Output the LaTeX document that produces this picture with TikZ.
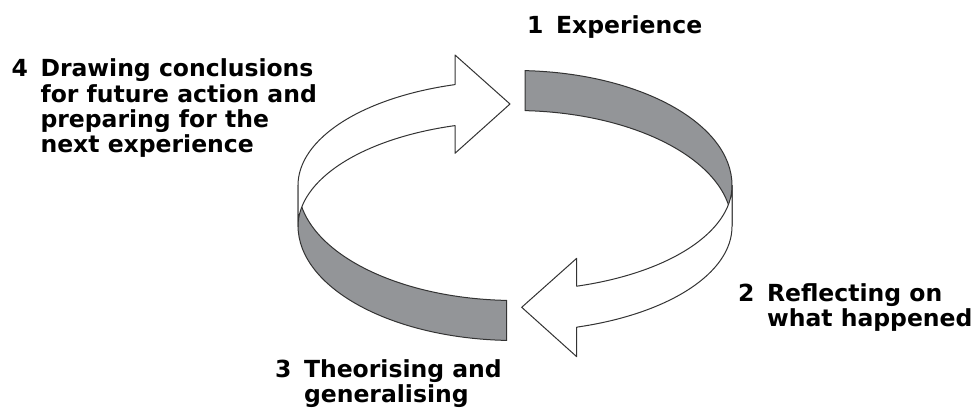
\documentclass[tikz,border=0pt]{standalone}
\usepackage{fontspec}
\setmainfont{DejaVu Sans}
\usepackage{tikz}
\definecolor{ribbon}{RGB}{147,149,152}
\tikzstyle{band}=[draw=black!80,line width=1pt,line join=round]
\tikzstyle{inside}=[band,fill=ribbon]
\tikzstyle{outside}=[band,fill=white]
\tikzstyle{stagetext}=[inner sep=0pt,anchor=base west,font=\fontsize{23.5}{25}\selectfont\bfseries]
\newcommand{\stagelabel}[2]{\begin{tabular}[t]{@{}l@{\hspace{12.5pt}}l@{}}#1&#2\end{tabular}}

\begin{document}
\begin{tikzpicture}[x=1pt,y=1pt]
\useasboundingbox (0,0) rectangle (979,410);
% back part of the ribbon, seen from inside
\draw[inside] (515,224.5) ++(87.36:217 and 115)
    arc[start angle=87.36,end angle=0,x radius=217,y radius=115] -- ++(0,-40)
    arc[start angle=0,end angle=87.36,x radius=217,y radius=115] -- cycle;
% arrow bottom right
\draw[outside] (515,224.5) ++(0:217 and 105) -- ++(0,-41)
    arc[start angle=0,end angle=-73.48,x radius=217,y radius=105]
    -- (576.7,53.3) -- (521.7,102.7) -- (576.7,151.7) -- (576.7,123.8)
    arc[start angle=-73.48,end angle=0,x radius=217,y radius=105] -- cycle;
% front part of the ribbon
\draw[inside] (515,224.5) ++(180:217 and 115)
    arc[start angle=180,end angle=267.81,x radius=217,y radius=115] -- ++(0,-40)
    arc[start angle=267.81,end angle=180,x radius=217,y radius=115] -- cycle;
% arrow top left
\draw[outside] (515,224.5) ++(180:217 and 105) -- ++(0,-41)
    arc[start angle=180,end angle=106.05,x radius=217,y radius=105]
    -- (455,256.7) -- (510,306) -- (455,355) -- (455,325.4)
    arc[start angle=106.05,end angle=180,x radius=217,y radius=105] -- cycle;

\node[stagetext] (experience) at (527,376) {\stagelabel{1}{Experience}};
\node[stagetext] (reflecting) at (738,109) {\stagelabel{2}{Reflecting on\\ & what happened}};
\node[stagetext] (theorising) at (275,33) {\stagelabel{3}{Theorising and\\ & generalising}};
\node[stagetext] (concluding) at (11.5,333.3) {\stagelabel{4}{Drawing conclusions\\ & for future action and\\ & preparing for the\\ & next experience}};
\end{tikzpicture}
\end{document}
